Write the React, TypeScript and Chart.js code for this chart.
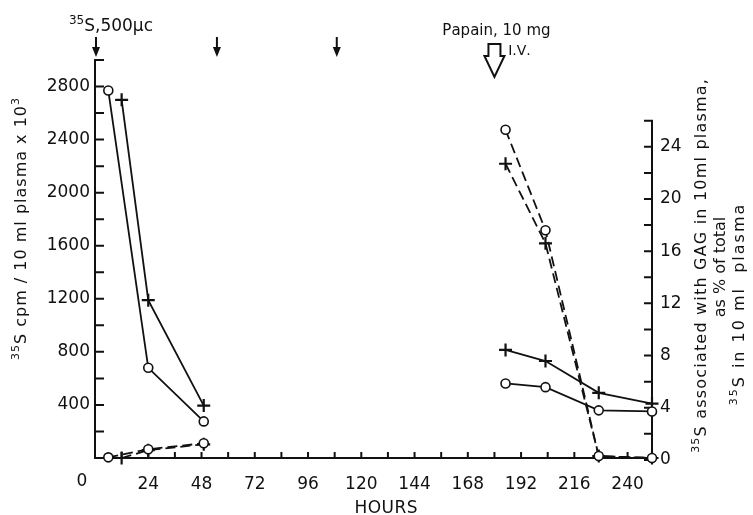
import React, { useEffect, useRef } from 'react';
import { Chart, registerables } from 'chart.js';

Chart.register(...registerables);

// ---- axis ticks / labels ----
const xTickValues = [0, 12, 24, 36, 48, 60, 72, 84, 96, 108, 120, 132, 144, 156, 168, 180, 192, 204, 216, 228, 240];
const xLabelValues = [24, 48, 72, 96, 120, 144, 168, 192, 216, 240];
const leftTickValues = [0, 200, 400, 600, 800, 1000, 1200, 1400, 1600, 1800, 2000, 2200, 2400, 2600, 2800, 3000];
const leftLabelValues = [400, 800, 1200, 1600, 2000, 2400, 2800];
const rightTickValues = [0, 2, 4, 6, 8, 10, 12, 14, 16, 18, 20, 22, 24, 26];
const rightLabelValues = [0, 4, 8, 12, 16, 20, 24];

// ---- data (hours) ----
const earlyHoursCircle = [6, 24, 49];
const earlyHoursPlus = [12, 24, 49];
const lateHours = [185, 203, 227, 251];

// 35S cpm / 10 ml plasma x 10^3 (left axis)
const totalCircleEarly = [2770, 680, 276];
const totalPlusEarly = [2700, 1190, 395];
const totalCircleLate = [562, 534, 359, 351];
const totalPlusLate = [815, 731, 491, 410];

// 35S associated with GAG, % of total (right axis)
const gagCircleEarly = [0.2, 0.82, 1.28];
const gagPlusEarly = [0.15, 0.75, 1.2];
const gagCircleLate = [25.3, 17.6, 0.3, 0.15];
const gagPlusLate = [22.7, 16.6, 0.3, 0.15];

// ---- annotations (hours) ----
const injectionHours = [0, 54.5, 108.5];
const papainHour = 180;

const X_MAX = 251;
const INK = '#111';
const FONT = '"DejaVu Sans", "Liberation Sans", sans-serif';

function zip(xs: number[], ys: number[]) {
  return xs.map((x, i) => ({ x, y: ys[i] }));
}

type Run = [string, boolean];

function drawRich(ctx: CanvasRenderingContext2D, runs: Run[], cx: number, baseY: number, size: number, spacing = 0) {
  const base = `${size}px ${FONT}`;
  const sup = `${Math.round(size * 0.68)}px ${FONT}`;
  const pieces: { ch: string; s: boolean; w: number }[] = [];
  let total = 0;
  for (const [t, s] of runs) {
    ctx.font = s ? sup : base;
    for (const ch of Array.from(t)) {
      const w = ctx.measureText(ch).width;
      pieces.push({ ch, s, w });
      total += w + spacing;
    }
  }
  total -= spacing;
  let x = cx - total / 2;
  ctx.textAlign = 'left';
  ctx.textBaseline = 'alphabetic';
  for (const p of pieces) {
    ctx.font = p.s ? sup : base;
    ctx.fillText(p.ch, x, p.s ? baseY - size * 0.4 : baseY);
    x += p.w + spacing;
  }
}

function drawRotated(ctx: CanvasRenderingContext2D, runs: Run[], cx: number, cy: number, size: number, spacing = 0) {
  ctx.save();
  ctx.translate(cx, cy);
  ctx.rotate(-Math.PI / 2);
  drawRich(ctx, runs, 0, size * 0.36, size, spacing);
  ctx.restore();
}

const axesPlugin = {
  id: 'customAxes',
  beforeDatasetsDraw(chart: any) {
    const { ctx, chartArea } = chart;
    const xs = chart.scales.x;
    const ys = chart.scales.y;
    const y2 = chart.scales.y2;
    ctx.save();
    ctx.strokeStyle = INK;
    ctx.lineWidth = 2;
    ctx.lineCap = 'butt';
    const x0 = xs.getPixelForValue(0);
    const yb = ys.getPixelForValue(0);
    // left axis
    ctx.beginPath();
    ctx.moveTo(x0, yb + 1);
    ctx.lineTo(x0, ys.getPixelForValue(3000) - 1);
    for (const v of leftTickValues) {
      const py = ys.getPixelForValue(v);
      ctx.moveTo(x0, py);
      ctx.lineTo(x0 + 9, py);
    }
    ctx.stroke();
    // bottom axis
    ctx.beginPath();
    ctx.moveTo(x0, yb);
    ctx.lineTo(chartArea.right, yb);
    for (const v of xTickValues) {
      if (v === 0) continue;
      const px = xs.getPixelForValue(v);
      ctx.moveTo(px, yb);
      ctx.lineTo(px, yb - 6);
    }
    ctx.stroke();
    // right axis
    const xr = xs.getPixelForValue(X_MAX);
    ctx.beginPath();
    ctx.moveTo(xr, y2.getPixelForValue(0) + 1);
    ctx.lineTo(xr, y2.getPixelForValue(26) - 1);
    for (const v of rightTickValues) {
      const py = y2.getPixelForValue(v);
      ctx.moveTo(xr, py);
      ctx.lineTo(xr - 8, py);
    }
    ctx.stroke();
    ctx.restore();
  },
  afterDraw(chart: any) {
    const { ctx } = chart;
    const xs = chart.scales.x;
    const ys = chart.scales.y;
    ctx.save();
    ctx.fillStyle = INK;
    ctx.strokeStyle = INK;

    // corner zero
    ctx.font = `17px ${FONT}`;
    ctx.textAlign = 'center';
    ctx.textBaseline = 'middle';
    ctx.fillText('0', xs.getPixelForValue(0) - 13, ys.getPixelForValue(0) + 24);

    // x title
    drawRich(ctx, [['HOURS', false]], 386, 513, 17, 0.5);

    // left title
    drawRotated(ctx, [['35', true], ['S cpm / 10 ml plasma x 10', false], ['3', true]], 20, 229, 16, 1);

    // right titles
    drawRotated(ctx, [['35', true], ['S associated with GAG in 10ml plasma,', false]], 700, 266, 16, 1.2);
    drawRotated(ctx, [['as % of total', false]], 719, 267, 16, 0);
    drawRotated(ctx, [['35', true], ['S in 10 ml  plasma', false]], 738, 305, 16, 2);

    // injection label + arrows
    drawRich(ctx, [['35', true], ['S,500\u03bcc', false]], 111, 31, 17);
    ctx.lineWidth = 2;
    for (const h of injectionHours) {
      const px = xs.getPixelForValue(h) + 1;
      ctx.beginPath();
      ctx.moveTo(px, 37);
      ctx.lineTo(px, 50);
      ctx.stroke();
      ctx.beginPath();
      ctx.moveTo(px - 4, 47);
      ctx.lineTo(px + 4, 47);
      ctx.lineTo(px, 57);
      ctx.closePath();
      ctx.fill();
    }

    // papain
    const pp = xs.getPixelForValue(papainHour);
    drawRich(ctx, [['Papain, 10 mg', false]], pp + 2, 35, 15);
    drawRich(ctx, [['I.V.', false]], pp + 25, 55, 14);
    ctx.lineWidth = 2;
    ctx.lineJoin = 'miter';
    ctx.beginPath();
    ctx.moveTo(pp - 6, 44);
    ctx.lineTo(pp + 6, 44);
    ctx.lineTo(pp + 6, 56);
    ctx.lineTo(pp + 10, 56);
    ctx.lineTo(pp, 77);
    ctx.lineTo(pp - 10, 56);
    ctx.lineTo(pp - 6, 56);
    ctx.closePath();
    ctx.stroke();

    ctx.restore();
  },
};

function lineDs(data: { x: number; y: number }[], axis: string, marker: 'circle' | 'cross', dashed: boolean) {
  return {
    data,
    yAxisID: axis,
    borderColor: INK,
    borderWidth: 1.8,
    borderDash: dashed ? [10, 5] : [],
    fill: false,
    tension: 0,
    clip: false as any,
    pointStyle: marker,
    pointRadius: marker === 'circle' ? 4.5 : 6.5,
    pointBorderWidth: marker === 'circle' ? 1.6 : 2.2,
    pointBorderColor: INK,
    pointBackgroundColor: '#fff',
  };
}

export default function App() {
  const ref = useRef<HTMLCanvasElement | null>(null);
  useEffect(() => {
    if (!ref.current) return;
    const chart = new Chart(ref.current, {
      type: 'line',
      data: {
        datasets: [
          lineDs(zip(earlyHoursCircle, totalCircleEarly), 'y', 'circle', false),
          lineDs(zip(earlyHoursPlus, totalPlusEarly), 'y', 'cross', false),
          lineDs(zip(lateHours, totalCircleLate), 'y', 'circle', false),
          lineDs(zip(lateHours, totalPlusLate), 'y', 'cross', false),
          lineDs(zip(earlyHoursCircle, gagCircleEarly), 'y2', 'circle', true),
          lineDs(zip(earlyHoursPlus, gagPlusEarly), 'y2', 'cross', true),
          lineDs(zip(lateHours, gagCircleLate), 'y2', 'circle', true),
          lineDs(zip(lateHours, gagPlusLate), 'y2', 'cross', true),
        ] as any,
      },
      options: {
        responsive: false,
        animation: false,
        layout: { padding: { top: 60, left: 0, right: 0, bottom: 0 } },
        plugins: { legend: { display: false }, tooltip: { enabled: false } },
        scales: {
          x: {
            type: 'linear',
            min: 0,
            max: X_MAX,
            afterBuildTicks: (s: any) => {
              s.ticks = xTickValues.map((v) => ({ value: v }));
            },
            afterFit: (s: any) => {
              s.height = 57;
            },
            grid: { display: false, drawTicks: false },
            border: { display: false },
            ticks: {
              autoSkip: false,
              maxRotation: 0,
              padding: 16,
              color: INK,
              font: { family: FONT, size: 17 },
              callback: (v: any) => (xLabelValues.includes(Number(v)) ? String(v) : ''),
            },
          },
          y: {
            type: 'linear',
            position: 'left',
            min: 0,
            max: 3000,
            afterBuildTicks: (s: any) => {
              s.ticks = leftTickValues.map((v) => ({ value: v }));
            },
            afterFit: (s: any) => {
              s.width = 95;
            },
            grid: { display: false, drawTicks: false },
            border: { display: false },
            ticks: {
              autoSkip: false,
              padding: 5,
              color: INK,
              font: { family: FONT, size: 17 },
              callback: (v: any) => (leftLabelValues.includes(Number(v)) ? String(v) : ''),
            },
          },
          y2: {
            type: 'linear',
            position: 'right',
            min: 0.15,
            max: 30.65,
            afterBuildTicks: (s: any) => {
              s.ticks = rightTickValues.map((v) => ({ value: v }));
            },
            afterFit: (s: any) => {
              s.width = 101;
            },
            grid: { display: false, drawTicks: false },
            border: { display: false },
            ticks: {
              autoSkip: false,
              padding: 8,
              color: INK,
              font: { family: FONT, size: 17 },
              callback: (v: any) => (rightLabelValues.includes(Number(v)) ? String(v) : ''),
            },
          },
        },
      } as any,
      plugins: [axesPlugin],
    });
    return () => chart.destroy();
  }, []);

  return (
    <div style={{ position: 'absolute', left: 0, top: 0, width: 753, height: 515, background: '#fff' }}>
      <canvas ref={ref} width={753} height={515} />
    </div>
  );
}
